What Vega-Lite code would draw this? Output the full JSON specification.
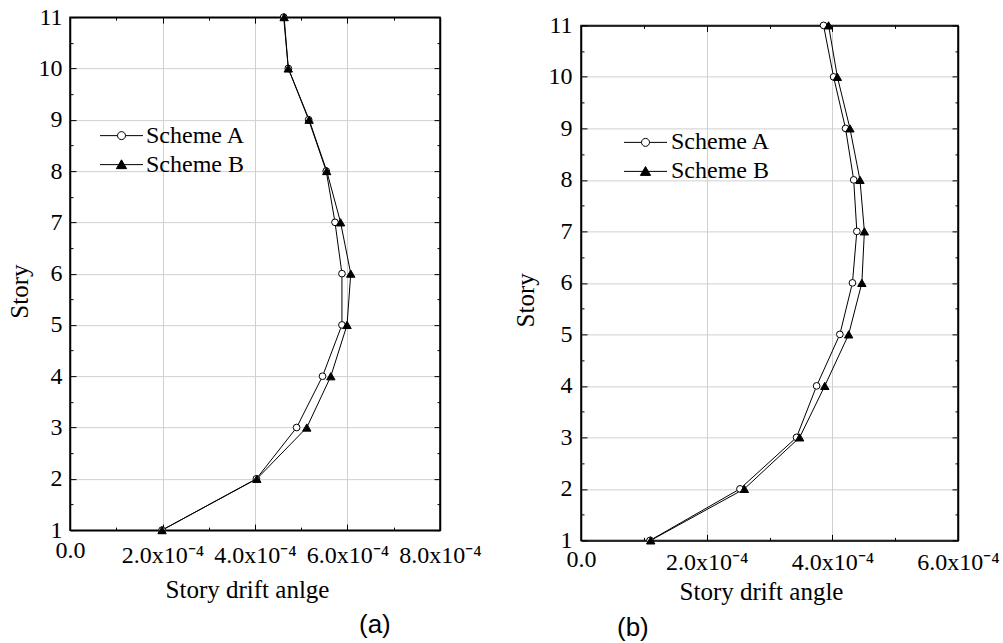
{
  "$schema": "https://vega.github.io/schema/vega-lite/v6.json",
  "padding": {"left": 6, "top": 4, "right": 5, "bottom": 0},
  "background": "white",
  "datasets": {
    "a": [
      {"series": "Scheme A", "story": 11, "drift": 0.000462},
      {"series": "Scheme A", "story": 10, "drift": 0.000472},
      {"series": "Scheme A", "story": 9, "drift": 0.000516},
      {"series": "Scheme A", "story": 8, "drift": 0.000554},
      {"series": "Scheme A", "story": 7, "drift": 0.000573},
      {"series": "Scheme A", "story": 6, "drift": 0.000588},
      {"series": "Scheme A", "story": 5, "drift": 0.000588},
      {"series": "Scheme A", "story": 4, "drift": 0.000546},
      {"series": "Scheme A", "story": 3, "drift": 0.000490},
      {"series": "Scheme A", "story": 2, "drift": 0.000403},
      {"series": "Scheme A", "story": 1, "drift": 0.000199},
      {"series": "Scheme B", "story": 11, "drift": 0.000463},
      {"series": "Scheme B", "story": 10, "drift": 0.000472},
      {"series": "Scheme B", "story": 9, "drift": 0.000517},
      {"series": "Scheme B", "story": 8, "drift": 0.000555},
      {"series": "Scheme B", "story": 7, "drift": 0.000585},
      {"series": "Scheme B", "story": 6, "drift": 0.000607},
      {"series": "Scheme B", "story": 5, "drift": 0.000599},
      {"series": "Scheme B", "story": 4, "drift": 0.000564},
      {"series": "Scheme B", "story": 3, "drift": 0.000512},
      {"series": "Scheme B", "story": 2, "drift": 0.000404},
      {"series": "Scheme B", "story": 1, "drift": 0.000199}
    ],
    "b": [
      {"series": "Scheme A", "story": 11, "drift": 0.000386},
      {"series": "Scheme A", "story": 10, "drift": 0.000402},
      {"series": "Scheme A", "story": 9, "drift": 0.000421},
      {"series": "Scheme A", "story": 8, "drift": 0.000434},
      {"series": "Scheme A", "story": 7, "drift": 0.000439},
      {"series": "Scheme A", "story": 6, "drift": 0.000432},
      {"series": "Scheme A", "story": 5, "drift": 0.000412},
      {"series": "Scheme A", "story": 4, "drift": 0.000375},
      {"series": "Scheme A", "story": 3, "drift": 0.000343},
      {"series": "Scheme A", "story": 2, "drift": 0.000253},
      {"series": "Scheme A", "story": 1, "drift": 0.000110},
      {"series": "Scheme B", "story": 11, "drift": 0.000394},
      {"series": "Scheme B", "story": 10, "drift": 0.000408},
      {"series": "Scheme B", "story": 9, "drift": 0.000428},
      {"series": "Scheme B", "story": 8, "drift": 0.000444},
      {"series": "Scheme B", "story": 7, "drift": 0.000451},
      {"series": "Scheme B", "story": 6, "drift": 0.000447},
      {"series": "Scheme B", "story": 5, "drift": 0.000426},
      {"series": "Scheme B", "story": 4, "drift": 0.000388},
      {"series": "Scheme B", "story": 3, "drift": 0.000348},
      {"series": "Scheme B", "story": 2, "drift": 0.000260},
      {"series": "Scheme B", "story": 1, "drift": 0.000111}
    ]
  },
  "spacing": 30,
  "center": true,
  "resolve": {
    "scale": {"x": "independent", "y": "independent", "shape": "independent", "fill": "independent", "stroke": "independent"},
    "legend": {"shape": "independent", "fill": "independent", "stroke": "independent"}
  },
  "hconcat": [
    {
      "width": 370,
      "height": 513,
      "data": {"name": "a"},
      "title": {"text": ["(a)", ""], "lineHeight": 11, "orient": "bottom", "anchor": "start", "frame": "group", "dx": 289, "offset": 10, "font": "Liberation Sans", "fontSize": 26, "fontWeight": "normal", "color": "black"},
      "resolve": {"axis": {"x": "independent", "y": "independent"}},
      "layer": [
        {
          "mark": {"type": "line", "color": "black", "strokeWidth": 1},
          "encoding": {
            "x": {
              "field": "drift", "type": "quantitative",
              "scale": {"domain": [0, 0.0008], "nice": false, "zero": false},
              "axis": {
                "orient": "bottom",
                "title": "Story drift anlge",
                "values": [0, 0.0001, 0.0002, 0.0003, 0.0004, 0.0005, 0.0006, 0.0007, 0.0008],
                "labelExpr": "datum.value < 1e-9 ? '0.0' : (round(datum.value * 1e5) % 20 == 0 ? format(datum.value * 1e4, '.1f') + 'x10\u207b\u2074' : '')",
                "tickSize": {"condition": {"test": "round(datum.value * 1e5) % 20 != 0", "value": -3}, "value": -6},
                "gridOpacity": {"condition": {"test": "round(datum.value * 1e5) % 20 != 0", "value": 0}, "value": 1},
                "labelPadding": {"condition": {"test": "datum.value < 1e-9", "value": 14}, "value": 19},
                "titleX": 177, "titleY": 59, "titleBaseline": "middle", "titleAlign": "center"
              }
            },
            "y": {
              "field": "story", "type": "quantitative",
              "scale": {"domain": [1, 11], "nice": false, "zero": false},
              "axis": {
                "orient": "left",
                "title": "Story",
                "values": [1, 1.5, 2, 2.5, 3, 3.5, 4, 4.5, 5, 5.5, 6, 6.5, 7, 7.5, 8, 8.5, 9, 9.5, 10, 10.5, 11],
                "labelExpr": "datum.value % 1 == 0 ? format(datum.value, 'd') : ''",
                "tickSize": {"condition": {"test": "datum.value % 1 != 0", "value": -3}, "value": -6},
                "gridOpacity": {"condition": {"test": "datum.value % 1 != 0", "value": 0}, "value": 1},
                "labelPadding": 14,
                "titleX": -51, "titleY": 274, "titleBaseline": "middle", "titleAlign": "center", "titleAngle": -90
              }
            },
            "detail": {"field": "series"},
            "order": {"field": "story", "type": "quantitative"}
          }
        },
        {
          "transform": [{"filter": "datum.series == 'Scheme A'"}],
          "mark": {"type": "point", "shape": "circle", "filled": true, "fill": "white", "stroke": "black", "strokeWidth": 1, "size": 45, "opacity": 1},
          "encoding": {
            "x": {
              "field": "drift", "type": "quantitative",
              "axis": {
                "orient": "top", "title": null, "labels": false, "grid": false,
                "values": [0, 0.0001, 0.0002, 0.0003, 0.0004, 0.0005, 0.0006, 0.0007, 0.0008],
                "tickSize": {"condition": {"test": "round(datum.value * 1e5) % 20 != 0", "value": -3}, "value": -6}
              }
            },
            "y": {
              "field": "story", "type": "quantitative",
              "axis": {
                "orient": "right", "title": null, "labels": false, "grid": false,
                "values": [1, 1.5, 2, 2.5, 3, 3.5, 4, 4.5, 5, 5.5, 6, 6.5, 7, 7.5, 8, 8.5, 9, 9.5, 10, 10.5, 11],
                "tickSize": {"condition": {"test": "datum.value % 1 != 0", "value": -3}, "value": -6}
              }
            }
          }
        },
        {
          "transform": [{"filter": "datum.series == 'Scheme B'"}],
          "mark": {"type": "point", "shape": "triangle-up", "filled": true, "fill": "black", "stroke": "black", "strokeWidth": 1, "size": 70, "opacity": 1},
          "encoding": {
            "x": {"field": "drift", "type": "quantitative", "axis": null},
            "y": {"field": "story", "type": "quantitative", "axis": null}
          }
        },
        {
          "mark": {"type": "point", "filled": true, "strokeWidth": 1, "opacity": 0},
          "encoding": {
            "x": {"field": "drift", "type": "quantitative", "axis": null},
            "y": {"field": "story", "type": "quantitative", "axis": null},
            "shape": {
              "field": "series", "type": "nominal",
              "scale": {"domain": ["Scheme A", "Scheme B"], "range": ["M-1.344,0H-0.25M0.25,0H1.344M-0.25,0A0.25,0.25,0,1,0,0.25,0A0.25,0.25,0,1,0,-0.25,0Z", "M-1.344,0H1.344M0,-0.3L0.32,0.25L-0.32,0.25Z"]},
              "legend": {"title": null, "orient": "none", "legendX": 35, "legendY": 102, "padding": 0, "symbolSize": 1024, "symbolStrokeWidth": 1, "symbolOpacity": 1, "labelFont": "Liberation Serif", "labelFontSize": 24, "labelColor": "black", "labelOffset": 8, "rowPadding": -5}
            },
            "fill": {
              "field": "series", "type": "nominal",
              "scale": {"domain": ["Scheme A", "Scheme B"], "range": ["white", "black"]},
              "legend": {"title": null, "orient": "none", "legendX": 35, "legendY": 102, "padding": 0, "symbolSize": 1024, "symbolStrokeWidth": 1, "symbolOpacity": 1, "labelFont": "Liberation Serif", "labelFontSize": 24, "labelColor": "black", "labelOffset": 8, "rowPadding": -5}
            },
            "stroke": {
              "field": "series", "type": "nominal",
              "scale": {"domain": ["Scheme A", "Scheme B"], "range": ["black", "black"]},
              "legend": {"title": null, "orient": "none", "legendX": 35, "legendY": 102, "padding": 0, "symbolSize": 1024, "symbolStrokeWidth": 1, "symbolOpacity": 1, "labelFont": "Liberation Serif", "labelFontSize": 24, "labelColor": "black", "labelOffset": 8, "rowPadding": -5}
            }
          }
        }
      ]
    },
    {
      "width": 377,
      "height": 515,
      "data": {"name": "b"},
      "title": {"text": "(b)", "orient": "bottom", "anchor": "start", "frame": "group", "dx": 36, "offset": 10, "font": "Liberation Sans", "fontSize": 26, "fontWeight": "normal", "color": "black"},
      "resolve": {"axis": {"x": "independent", "y": "independent"}},
      "layer": [
        {
          "mark": {"type": "line", "color": "black", "strokeWidth": 1},
          "encoding": {
            "x": {
              "field": "drift", "type": "quantitative",
              "scale": {"domain": [0, 0.0006], "nice": false, "zero": false},
              "axis": {
                "orient": "bottom",
                "title": "Story drift angle",
                "values": [0, 0.0001, 0.0002, 0.0003, 0.0004, 0.0005, 0.0006],
                "labelExpr": "datum.value < 1e-9 ? '0.0' : (round(datum.value * 1e5) % 20 == 0 ? format(datum.value * 1e4, '.1f') + 'x10\u207b\u2074' : '')",
                "tickSize": {"condition": {"test": "round(datum.value * 1e5) % 20 != 0", "value": -3}, "value": -6},
                "gridOpacity": {"condition": {"test": "round(datum.value * 1e5) % 20 != 0", "value": 0}, "value": 1},
                "labelPadding": {"condition": {"test": "datum.value < 1e-9", "value": 13.5}, "value": 16.5},
                "titleX": 180, "titleY": 51.5, "titleBaseline": "middle", "titleAlign": "center"
              }
            },
            "y": {
              "field": "story", "type": "quantitative",
              "scale": {"domain": [1, 11], "nice": false, "zero": false},
              "axis": {
                "orient": "left",
                "title": "Story",
                "values": [1, 1.5, 2, 2.5, 3, 3.5, 4, 4.5, 5, 5.5, 6, 6.5, 7, 7.5, 8, 8.5, 9, 9.5, 10, 10.5, 11],
                "labelExpr": "datum.value % 1 == 0 ? format(datum.value, 'd') : ''",
                "tickSize": {"condition": {"test": "datum.value % 1 != 0", "value": -3}, "value": -6},
                "gridOpacity": {"condition": {"test": "datum.value % 1 != 0", "value": 0}, "value": 1},
                "labelPadding": 15,
                "titleX": -56, "titleY": 274.5, "titleBaseline": "middle", "titleAlign": "center", "titleAngle": -90
              }
            },
            "detail": {"field": "series"},
            "order": {"field": "story", "type": "quantitative"}
          }
        },
        {
          "transform": [{"filter": "datum.series == 'Scheme A'"}],
          "mark": {"type": "point", "shape": "circle", "filled": true, "fill": "white", "stroke": "black", "strokeWidth": 1, "size": 45, "opacity": 1},
          "encoding": {
            "x": {
              "field": "drift", "type": "quantitative",
              "axis": {
                "orient": "top", "title": null, "labels": false, "grid": false,
                "values": [0, 0.0001, 0.0002, 0.0003, 0.0004, 0.0005, 0.0006],
                "tickSize": {"condition": {"test": "round(datum.value * 1e5) % 20 != 0", "value": -3}, "value": -6}
              }
            },
            "y": {
              "field": "story", "type": "quantitative",
              "axis": {
                "orient": "right", "title": null, "labels": false, "grid": false,
                "values": [1, 1.5, 2, 2.5, 3, 3.5, 4, 4.5, 5, 5.5, 6, 6.5, 7, 7.5, 8, 8.5, 9, 9.5, 10, 10.5, 11],
                "tickSize": {"condition": {"test": "datum.value % 1 != 0", "value": -3}, "value": -6}
              }
            }
          }
        },
        {
          "transform": [{"filter": "datum.series == 'Scheme B'"}],
          "mark": {"type": "point", "shape": "triangle-up", "filled": true, "fill": "black", "stroke": "black", "strokeWidth": 1, "size": 70, "opacity": 1},
          "encoding": {
            "x": {"field": "drift", "type": "quantitative", "axis": null},
            "y": {"field": "story", "type": "quantitative", "axis": null}
          }
        },
        {
          "mark": {"type": "point", "filled": true, "strokeWidth": 1, "opacity": 0},
          "encoding": {
            "x": {"field": "drift", "type": "quantitative", "axis": null},
            "y": {"field": "story", "type": "quantitative", "axis": null},
            "shape": {
              "field": "series", "type": "nominal",
              "scale": {"domain": ["Scheme A", "Scheme B"], "range": ["M-1.344,0H-0.25M0.25,0H1.344M-0.25,0A0.25,0.25,0,1,0,0.25,0A0.25,0.25,0,1,0,-0.25,0Z", "M-1.344,0H1.344M0,-0.3L0.32,0.25L-0.32,0.25Z"]},
              "legend": {"title": null, "orient": "none", "legendX": 48, "legendY": 100.5, "padding": 0, "symbolSize": 1024, "symbolStrokeWidth": 1, "symbolOpacity": 1, "labelFont": "Liberation Serif", "labelFontSize": 24, "labelColor": "black", "labelOffset": 9, "rowPadding": -2}
            },
            "fill": {
              "field": "series", "type": "nominal",
              "scale": {"domain": ["Scheme A", "Scheme B"], "range": ["white", "black"]},
              "legend": {"title": null, "orient": "none", "legendX": 48, "legendY": 100.5, "padding": 0, "symbolSize": 1024, "symbolStrokeWidth": 1, "symbolOpacity": 1, "labelFont": "Liberation Serif", "labelFontSize": 24, "labelColor": "black", "labelOffset": 9, "rowPadding": -2}
            },
            "stroke": {
              "field": "series", "type": "nominal",
              "scale": {"domain": ["Scheme A", "Scheme B"], "range": ["black", "black"]},
              "legend": {"title": null, "orient": "none", "legendX": 48, "legendY": 100.5, "padding": 0, "symbolSize": 1024, "symbolStrokeWidth": 1, "symbolOpacity": 1, "labelFont": "Liberation Serif", "labelFontSize": 24, "labelColor": "black", "labelOffset": 9, "rowPadding": -2}
            }
          }
        }
      ]
    }
  ],
  "config": {
    "font": "Liberation Serif",
    "view": {"stroke": "black", "strokeWidth": 1.5},
    "axis": {
      "domainColor": "black",
      "domainWidth": 1.5,
      "tickColor": "black",
      "tickWidth": 1,
      "gridColor": "#d0d0d0",
      "gridWidth": 1,
      "labelFont": "Liberation Serif",
      "labelFontSize": 24,
      "labelColor": "black",
      "labelFlush": false,
      "labelOverlap": false,
      "labelBound": false,
      "titleFont": "Liberation Serif",
      "titleFontSize": 25,
      "titleFontWeight": "normal",
      "titleColor": "black"
    }
  }
}
